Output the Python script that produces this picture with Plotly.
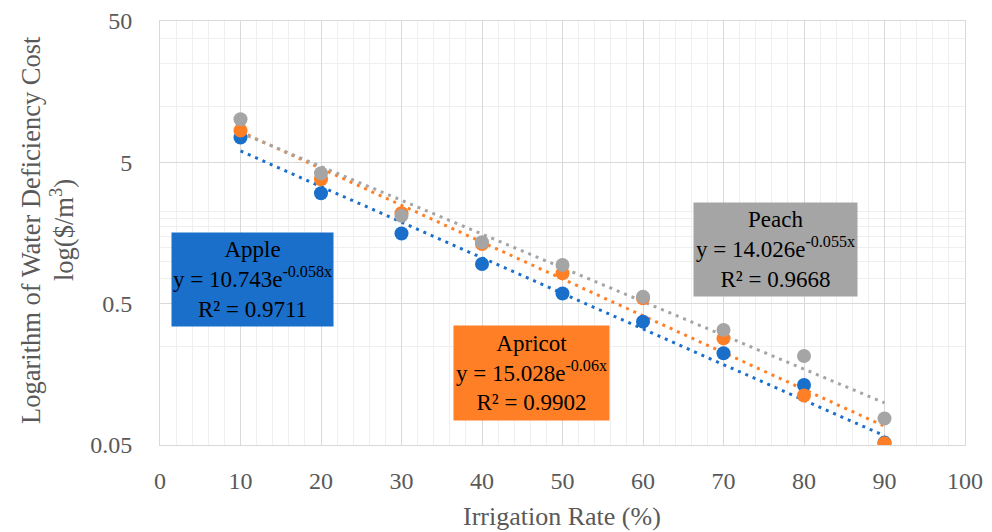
import plotly.graph_objects as go
import numpy as np

irrigation = [10, 20, 30, 40, 50, 60, 70, 80, 90]
apple = [7.5, 3.02, 1.57, 0.955, 0.59, 0.373, 0.223, 0.133, 0.052]
apricot = [8.4, 3.8, 2.18, 1.32, 0.82, 0.546, 0.284, 0.112, 0.0514]
peach = [10.1, 4.19, 2.09, 1.36, 0.94, 0.56, 0.326, 0.213, 0.077]

names = ["Apple", "Apricot", "Peach"]
coef_a = [10.743, 15.028, 14.026]
coef_b = [-0.058, -0.06, -0.055]
r2 = ["0.9711", "0.9902", "0.9668"]
eq_a_txt = ["10.743", "15.028", "14.026"]
eq_b_txt = ["-0.058x", "-0.06x", "-0.055x"]
colors = ["#1A6FCB", "#FF7F27", "#A5A5A5"]

y_major = [0.05, 0.5, 5, 50]
y_major_txt = ["0.05", "0.5", "5", "50"]
y_minor = [0.25, 0.75, 1, 1.25, 1.5, 1.75, 2, 2.25, 12.5, 25, 37.5]

FONT = "Liberation Serif"
TXT = "#595959"

fig = go.Figure()
series = [apple, apricot, peach]
for i, s in enumerate(series):
    xt = np.linspace(irrigation[0], irrigation[-1], 200)
    yt = coef_a[i] * np.exp(coef_b[i] * xt)
    fig.add_trace(go.Scatter(x=xt, y=yt, mode="lines",
                             line=dict(color=colors[i], width=3, dash="3px,5px"),
                             showlegend=False, hoverinfo="skip"))
for i, s in enumerate(series):
    fig.add_trace(go.Scatter(x=irrigation, y=s, mode="markers", name=names[i],
                             marker=dict(color=colors[i], size=14),
                             showlegend=False))

# page is rendered with an 8px body margin; compensate
OFF = 8
W, H = 992 - OFF, 532 - OFF
L, R, T, B = 160 - OFF, 965 - OFF, 21 - OFF, 445 - OFF

def px(xp):
    return (xp - OFF - L) / (R - L)

def py(yp):
    return 1 - (yp - OFF - T) / (B - T)

boxes = [(252.2, 279.7, 161, 93), (531.5, 373, 155, 94), (775.5, 249.5, 163, 93)]
for i, (cx, cy, w, h) in enumerate(boxes):
    txt = f"{names[i]}<br>y = {eq_a_txt[i]}e<sup>{eq_b_txt[i]}</sup><br>R² = {r2[i]}"
    fig.add_annotation(x=px(cx), y=py(cy), xref="paper", yref="paper",
                       text=txt, showarrow=False, bgcolor=colors[i],
                       width=w, height=h, borderpad=0, align="center",
                       font=dict(family=FONT, size=23, color="#000000"),
                       xanchor="center", yanchor="middle")

fig.add_annotation(x=px(562), y=py(516), xref="paper", yref="paper",
                   text="Irrigation Rate (%)", showarrow=False,
                   font=dict(family=FONT, size=26, color=TXT),
                   xanchor="center", yanchor="middle")
fig.add_annotation(x=px(31), y=py(230), xref="paper", yref="paper",
                   text="Logarithm of Water Deficiency Cost",
                   showarrow=False, textangle=-90,
                   font=dict(family=FONT, size=26.5, color=TXT),
                   xanchor="center", yanchor="middle")
fig.add_annotation(x=px(62), y=py(230), xref="paper", yref="paper",
                   text="log($/m<sup>3</sup>)",
                   showarrow=False, textangle=-90,
                   font=dict(family=FONT, size=26.5, color=TXT),
                   xanchor="center", yanchor="middle")

fig.update_layout(
    width=W, height=H,
    margin=dict(l=L, r=W - R, t=T, b=H - B, autoexpand=False),
    plot_bgcolor="white", paper_bgcolor="white",
    font=dict(family=FONT, size=24, color=TXT),
    showlegend=False,
)
fig.update_xaxes(range=[0, 100], tickmode="array", tickvals=list(range(0, 101, 10)),
                 showgrid=True, gridcolor="#D9D9D9", gridwidth=1,
                 minor=dict(tickmode="array", tickvals=[v for v in range(0, 101, 2) if v % 10],
                            showgrid=True, gridcolor="#EFEFEF", gridwidth=1),
                 showline=True, linecolor="#D9D9D9", linewidth=1, mirror=True,
                 zeroline=False, ticks="", ticklabelstandoff=14, automargin=False,
                 tickfont=dict(family=FONT, size=24, color=TXT))
fig.update_yaxes(type="log", range=[np.log10(0.05), np.log10(50)],
                 tickmode="array", tickvals=y_major, ticktext=y_major_txt,
                 showgrid=True, gridcolor="#D9D9D9", gridwidth=1,
                 minor=dict(tickmode="array", tickvals=y_minor,
                            showgrid=True, gridcolor="#EFEFEF", gridwidth=1),
                 showline=True, linecolor="#D9D9D9", linewidth=1, mirror=True,
                 zeroline=False, ticks="", ticklabelstandoff=22, automargin=False,
                 tickfont=dict(family=FONT, size=24, color=TXT))

fig.write_html("out.html")
